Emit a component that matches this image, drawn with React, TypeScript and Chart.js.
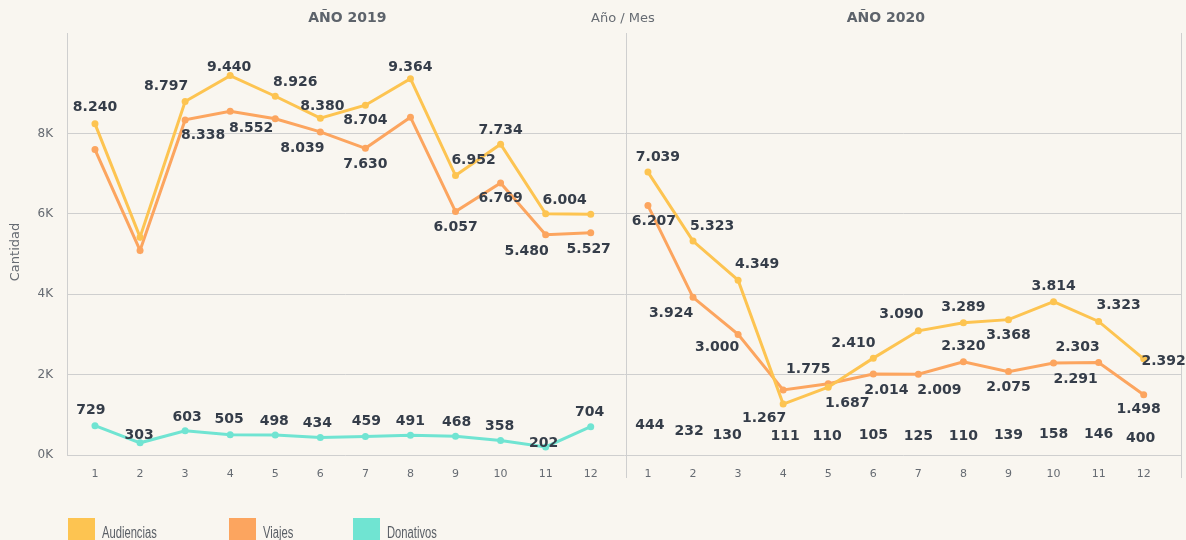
import { useEffect, useRef } from 'react';
import { Chart, registerables } from 'chart.js';

Chart.register(...registerables);

// ---------- data ----------
const MONTHS = [1, 2, 3, 4, 5, 6, 7, 8, 9, 10, 11, 12];
const PANEL_TITLES = ['AÑO 2019', 'AÑO 2020'];
const SERIES_NAMES = ['Audiencias', 'Viajes', 'Donativos'];
const Y_TICKS = [0, 2000, 4000, 6000, 8000];

const AUDIENCIAS_2019 = [8240, 5420, 8797, 9440, 8926, 8380, 8704, 9364, 6952, 7734, 6004, 5990];
const VIAJES_2019 = [7600, 5090, 8338, 8552, 8365, 8039, 7630, 8405, 6057, 6769, 5480, 5527];
const DONATIVOS_2019 = [729, 303, 603, 505, 498, 434, 459, 491, 468, 358, 202, 704];

const AUDIENCIAS_2020 = [7039, 5323, 4349, 1267, 1687, 2410, 3090, 3289, 3368, 3814, 3323, 2392];
const VIAJES_2020 = [6207, 3924, 3000, 1620, 1775, 2014, 2009, 2320, 2075, 2291, 2303, 1498];
const DONATIVOS_2020 = [444, 232, 130, 111, 110, 105, 125, 110, 139, 158, 146, 400];

// ---------- label placement (dx, dy in px from point; null = hidden) ----------
type Off = [number, number] | null;
const LBL_AUD_2019: Off[] = [[0, -16], null, [-19, -15], [-1, -8], [20, -14], [2, -12], [0, 15], [0, -11], [18, -15], [0, -14], [19, -13], null];
const LBL_VIA_2019: Off[] = [null, null, [18, 15], [21, 17], null, [-18, 16], [0, 16], null, [0, 16], [0, 15], [-19, 17], [-2, 16]];
const LBL_DON_2019: Off[] = [[-4, -15], [-1, -7], [2, -13], [-1, -15], [-1, -14], [-3, -14], [1, -15], [0, -14], [1, -14], [-1, -14], [-2, -4], [-1, -14]];
const LBL_AUD_2020: Off[] = [[10, -15], [19, -15], [19, -16], [-19, 14], [19, 16], [-20, -15], [-17, -16], [0, -15], [0, 16], [0, -15], [20, -16], [20, 2]];
const LBL_VIA_2020: Off[] = [[6, 16], [-22, 16], [-21, 13], null, [-20, -14], [13, 16], [21, 16], [0, -15], [0, 16], [22, 16], [-21, -15], [-5, 15]];
const LBL_DON_2020: Off[] = [[2, -12], [-4, -14], [-11, -14], [2, -14], [-1, -14], [0, -15], [0, -14], [0, -14], [0, -14], [0, -14], [0, -15], [-3, -1]];

// ---------- layout / style ----------
const OFFSET_2020 = 12.27;
const X_MIN = 0.379;
const X_MAX = 25.12;
const DIVIDER = 12.78;
const Y_MAX = 10500;

const BG = '#f9f6f0';
const GRID = '#cfcfcf';
const YELLOW = '#fdc451';
const ORANGE = '#fca55f';
const TEAL = '#70e4d2';
const LABEL = '#353d49';
const AXIS_TEXT = '#666b72';

const fmt = (v: number) => String(v).replace(/\B(?=(\d{3})+(?!\d))/g, '.');
const pts = (vals: number[], off: number) => vals.map((v, i) => ({ x: MONTHS[i] + off, y: v }));

const decor = {
  id: 'decor',
  beforeDraw(chart: any) {
    const { ctx } = chart;
    ctx.save();
    ctx.fillStyle = BG;
    ctx.fillRect(0, 0, chart.width, chart.height);
    ctx.restore();
  },
  beforeDatasetsDraw(chart: any) {
    const { ctx, chartArea, scales } = chart;
    const { top, bottom, left, right } = chartArea;
    const xd = Math.round(scales.x.getPixelForValue(DIVIDER)) + 0.5;
    ctx.save();
    ctx.strokeStyle = GRID;
    ctx.lineWidth = 1;
    const seg = (x: number, y1: number, y2: number) => {
      ctx.beginPath();
      ctx.moveTo(x, y1);
      ctx.lineTo(x, y2);
      ctx.stroke();
    };
    seg(Math.round(left) + 0.5, top, bottom);
    seg(xd, top, bottom + 23);
    seg(Math.round(right) - 0.5, top, bottom + 23);
    ctx.restore();
  },
  afterDatasetsDraw(chart: any) {
    const { ctx } = chart;
    ctx.save();
    ctx.font = 'bold 14px "DejaVu Sans"';
    ctx.fillStyle = LABEL;
    ctx.textAlign = 'center';
    ctx.textBaseline = 'middle';
    chart.data.datasets.forEach((ds: any, di: number) => {
      const meta = chart.getDatasetMeta(di);
      ds.data.forEach((p: any, i: number) => {
        const off = ds.labelOffsets[i];
        if (!off) return;
        const el = meta.data[i];
        ctx.fillText(fmt(p.y), el.x + off[0], el.y + off[1]);
      });
    });
    ctx.restore();
  },
  afterDraw(chart: any) {
    const { ctx, chartArea, scales } = chart;
    const x = scales.x;
    ctx.save();
    // panel titles
    ctx.font = 'bold 14px "DejaVu Sans"';
    ctx.fillStyle = '#5d636b';
    ctx.textAlign = 'center';
    ctx.textBaseline = 'middle';
    ctx.fillText(PANEL_TITLES[0], x.getPixelForValue(6.6), 18);
    ctx.fillText(PANEL_TITLES[1], x.getPixelForValue(18.55), 18);
    // x axis title
    ctx.font = '13px "DejaVu Sans"';
    ctx.fillStyle = AXIS_TEXT;
    ctx.fillText('Año / Mes', x.getPixelForValue(DIVIDER) - 3, 19);
    // y axis title
    ctx.save();
    ctx.translate(16, (chartArea.top + chartArea.bottom) / 2 + 8);
    ctx.rotate(-Math.PI / 2);
    ctx.fillText('Cantidad', 0, 0);
    ctx.restore();
    // legend
    const items = [
      { label: SERIES_NAMES[0], color: YELLOW, x: 68 },
      { label: SERIES_NAMES[1], color: ORANGE, x: 229 },
      { label: SERIES_NAMES[2], color: TEAL, x: 353 },
    ];
    items.forEach((it) => {
      ctx.fillStyle = it.color;
      ctx.fillRect(it.x, 518, 27, 27);
      ctx.save();
      ctx.translate(it.x + 34, 538);
      ctx.scale(0.7, 1);
      ctx.font = '16px "Liberation Sans"';
      ctx.fillStyle = '#5a5f66';
      ctx.textAlign = 'left';
      ctx.textBaseline = 'alphabetic';
      ctx.fillText(it.label, 0, 0);
      ctx.restore();
    });
    ctx.restore();
  },
};

const lineDs = (label: string, vals: number[], off: number, color: string, offs: Off[], hidden = false) => ({
  label,
  data: pts(vals, off),
  labelOffsets: offs,
  borderColor: hidden ? 'rgba(0,0,0,0)' : color,
  backgroundColor: hidden ? 'rgba(0,0,0,0)' : color,
  borderWidth: 3,
  pointRadius: hidden ? 0 : 3.5,
  pointBorderWidth: 0,
  pointHoverRadius: 0,
  tension: 0,
});

export default function App() {
  const ref = useRef<HTMLCanvasElement>(null);

  useEffect(() => {
    document.body.style.margin = '0';
    document.body.style.background = BG;
    const tickVals = [...MONTHS.map((m) => m), ...MONTHS.map((m) => m + OFFSET_2020)];
    const chart = new Chart(ref.current!, {
      type: 'line',
      data: {
        datasets: [
          lineDs(SERIES_NAMES[0], AUDIENCIAS_2019, 0, YELLOW, LBL_AUD_2019),
          lineDs(SERIES_NAMES[0], AUDIENCIAS_2020, OFFSET_2020, YELLOW, LBL_AUD_2020),
          lineDs(SERIES_NAMES[1], VIAJES_2019, 0, ORANGE, LBL_VIA_2019),
          lineDs(SERIES_NAMES[1], VIAJES_2020, OFFSET_2020, ORANGE, LBL_VIA_2020),
          lineDs(SERIES_NAMES[2], DONATIVOS_2019, 0, TEAL, LBL_DON_2019),
          lineDs(SERIES_NAMES[2], DONATIVOS_2020, OFFSET_2020, TEAL, LBL_DON_2020, true),
        ] as any,
      },
      options: {
        animation: false,
        responsive: false,
        events: [],
        layout: { padding: { top: 33, bottom: 62, left: 0, right: 4 } },
        plugins: { legend: { display: false }, tooltip: { enabled: false } },
        scales: {
          x: {
            type: 'linear',
            min: X_MIN,
            max: X_MAX,
            afterBuildTicks: (s: any) => {
              s.ticks = tickVals.map((v) => ({ value: v }));
            },
            afterFit: (s: any) => {
              s.height = 23;
            },
            ticks: {
              autoSkip: false,
              maxRotation: 0,
              padding: 5,
              color: AXIS_TEXT,
              font: { family: 'DejaVu Sans', size: 11 },
              callback: (v: any) => {
                const n = Number(v);
                return String(n > 12.5 ? Math.round(n - OFFSET_2020) : Math.round(n));
              },
            },
            grid: { display: false },
            border: { display: false },
          },
          y: {
            min: 0,
            max: Y_MAX,
            afterBuildTicks: (s: any) => {
              s.ticks = Y_TICKS.map((v) => ({ value: v }));
            },
            afterFit: (s: any) => {
              s.width = 67;
            },
            ticks: {
              padding: 14,
              color: AXIS_TEXT,
              font: { family: 'DejaVu Sans', size: 12 },
              callback: (v: any) => `${Number(v) / 1000}K`,
            },
            grid: { color: GRID, lineWidth: 1, drawTicks: false },
            border: { display: false },
          },
        },
      },
      plugins: [decor],
    });
    return () => chart.destroy();
  }, []);

  return (
    <div style={{ position: 'absolute', left: 0, top: 0, width: 1186, height: 540, background: BG }}>
      <canvas ref={ref} width={1186} height={540} style={{ display: 'block', width: 1186, height: 540 }} />
    </div>
  );
}
